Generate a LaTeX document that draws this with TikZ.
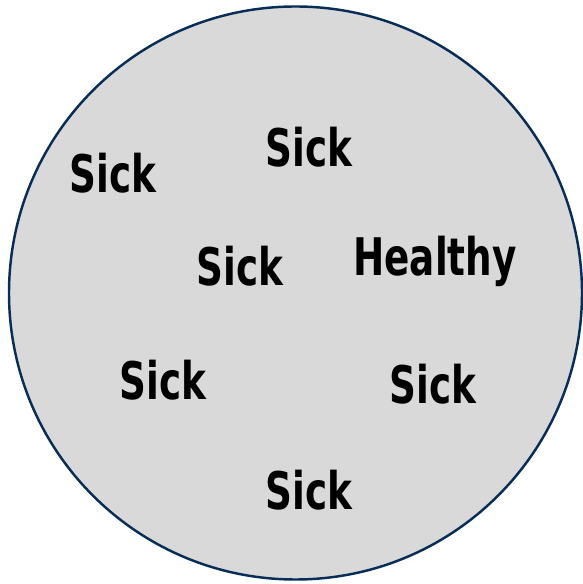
\documentclass[tikz,border=0pt]{standalone}
\usepackage{fontspec}
\usepackage{xcolor}
\usepackage{tikz}
\newfontfamily\labelfont[FakeStretch=0.72]{DejaVu Sans}
\definecolor{mynavy}{RGB}{8,46,88}
\definecolor{mygrey}{RGB}{217,217,217}
\tikzset{
  group/.style={circle, draw=mynavy, fill=mygrey, line width=1.4pt},
  person/.style={anchor=base, inner sep=0pt,
    font=\labelfont\bfseries\fontsize{29.5}{30}\selectfont, text=black}
}

\begin{document}
\begin{tikzpicture}[x=0.02cm, y=0.02cm]
  \useasboundingbox (0,0) rectangle (582,584);

  % population
  \draw[group] (295.5,291) circle (286.5);

  % individuals
  \node[person] (sicka)   at (113,391) {Sick};
  \node[person] (sickb)   at (309,417) {Sick};
  \node[person] (sickc)   at (240,298) {Sick};
  \node[person] (healthy) at (435,308) {Healthy};
  \node[person] (sickd)   at (163,184) {Sick};
  \node[person] (sicke)   at (433,180) {Sick};
  \node[person] (sickf)   at (309,74)  {Sick};
\end{tikzpicture}
\end{document}
